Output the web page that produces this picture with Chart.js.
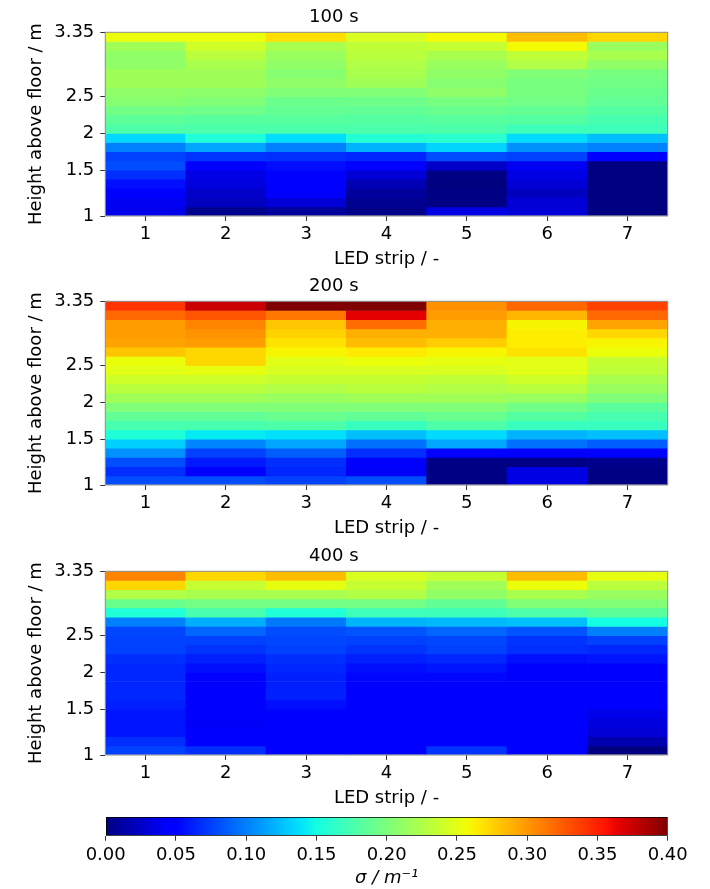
<!DOCTYPE html>
<html>
<head>
<meta charset="utf-8">
<script src="https://cdn.jsdelivr.net/npm/chart.js@4.4.1/dist/chart.umd.min.js"></script>
<style>
  html, body { margin: 0; padding: 0; background: #fff; }
  #wrap { position: relative; width: 710px; height: 889px; }
  canvas { position: absolute; left: 0; }
</style>
</head>
<body>
<div id="wrap">
  <canvas id="p100" width="710" height="270" style="top:0px"></canvas>
  <canvas id="p200" width="710" height="270" style="top:269px"></canvas>
  <canvas id="p400" width="710" height="270" style="top:539px"></canvas>
  <canvas id="cbar" width="710" height="89" style="top:800px"></canvas>
</div>
<script>
// LED strips along x, height bins along y (row 0 = floor)
const strips = ['1', '2', '3', '4', '5', '6', '7'];
const yTickPos = [0, 5, 9, 13, 20];
const yTickLabels = ['1', '1.5', '2', '2.5', '3.35'];
const cbarTicks = [0, 0.05, 0.1, 0.15, 0.2, 0.25, 0.3, 0.35, 0.4];
const sigmaMax = 0.4;

// extinction coefficient per bin, rows listed from ceiling down to floor
const sigma100 = [
  [0.255, 0.255, 0.270, 0.245, 0.258, 0.284, 0.273],
  [0.218, 0.240, 0.222, 0.233, 0.235, 0.258, 0.214],
  [0.210, 0.230, 0.214, 0.230, 0.222, 0.233, 0.222],
  [0.210, 0.222, 0.210, 0.226, 0.214, 0.226, 0.210],
  [0.218, 0.218, 0.205, 0.222, 0.210, 0.202, 0.198],
  [0.218, 0.218, 0.210, 0.218, 0.205, 0.198, 0.195],
  [0.210, 0.208, 0.202, 0.202, 0.210, 0.198, 0.191],
  [0.205, 0.202, 0.192, 0.193, 0.198, 0.195, 0.187],
  [0.195, 0.193, 0.188, 0.187, 0.191, 0.188, 0.181],
  [0.185, 0.183, 0.183, 0.181, 0.183, 0.181, 0.175],
  [0.178, 0.177, 0.177, 0.177, 0.177, 0.170, 0.170],
  [0.135, 0.155, 0.137, 0.157, 0.160, 0.136, 0.125],
  [0.100, 0.115, 0.100, 0.120, 0.133, 0.107, 0.100],
  [0.075, 0.070, 0.068, 0.065, 0.080, 0.075, 0.047],
  [0.080, 0.047, 0.055, 0.047, 0.025, 0.040, 0.000],
  [0.068, 0.035, 0.047, 0.030, 0.002, 0.035, 0.000],
  [0.055, 0.033, 0.047, 0.018, 0.000, 0.030, 0.000],
  [0.045, 0.025, 0.047, 0.010, 0.002, 0.022, 0.000],
  [0.040, 0.022, 0.030, 0.006, 0.002, 0.030, 0.000],
  [0.037, 0.005, 0.010, 0.003, 0.035, 0.030, 0.000]
];

const sigma200 = [
  [0.342, 0.374, 0.400, 0.400, 0.303, 0.320, 0.336],
  [0.320, 0.328, 0.314, 0.365, 0.298, 0.287, 0.320],
  [0.298, 0.308, 0.280, 0.318, 0.290, 0.260, 0.295],
  [0.298, 0.302, 0.275, 0.290, 0.290, 0.263, 0.273],
  [0.295, 0.298, 0.268, 0.284, 0.277, 0.263, 0.260],
  [0.280, 0.273, 0.260, 0.265, 0.260, 0.268, 0.255],
  [0.255, 0.273, 0.250, 0.255, 0.252, 0.250, 0.236],
  [0.250, 0.252, 0.245, 0.245, 0.245, 0.250, 0.233],
  [0.240, 0.240, 0.236, 0.236, 0.233, 0.240, 0.222],
  [0.230, 0.230, 0.226, 0.230, 0.226, 0.230, 0.214],
  [0.218, 0.218, 0.214, 0.218, 0.218, 0.214, 0.202],
  [0.202, 0.202, 0.202, 0.202, 0.202, 0.195, 0.184],
  [0.187, 0.187, 0.191, 0.187, 0.191, 0.181, 0.175],
  [0.175, 0.175, 0.178, 0.167, 0.178, 0.167, 0.167],
  [0.155, 0.142, 0.138, 0.125, 0.136, 0.120, 0.125],
  [0.132, 0.103, 0.115, 0.094, 0.115, 0.094, 0.087],
  [0.107, 0.075, 0.087, 0.068, 0.047, 0.047, 0.047],
  [0.080, 0.060, 0.068, 0.045, 0.002, 0.002, 0.005],
  [0.068, 0.045, 0.065, 0.042, 0.002, 0.035, 0.002],
  [0.080, 0.080, 0.075, 0.080, 0.002, 0.035, 0.002]
];

const sigma400 = [
  [0.308, 0.273, 0.284, 0.245, 0.236, 0.284, 0.252],
  [0.273, 0.236, 0.252, 0.236, 0.218, 0.255, 0.230],
  [0.226, 0.222, 0.222, 0.226, 0.210, 0.222, 0.214],
  [0.191, 0.195, 0.195, 0.195, 0.187, 0.202, 0.202],
  [0.155, 0.175, 0.155, 0.170, 0.170, 0.178, 0.184],
  [0.100, 0.118, 0.097, 0.120, 0.122, 0.125, 0.150],
  [0.077, 0.090, 0.080, 0.083, 0.090, 0.083, 0.100],
  [0.075, 0.075, 0.077, 0.075, 0.077, 0.070, 0.075],
  [0.075, 0.070, 0.075, 0.070, 0.075, 0.068, 0.065],
  [0.068, 0.062, 0.068, 0.062, 0.065, 0.055, 0.058],
  [0.065, 0.055, 0.065, 0.055, 0.058, 0.047, 0.050],
  [0.065, 0.047, 0.062, 0.052, 0.052, 0.047, 0.047],
  [0.065, 0.047, 0.062, 0.047, 0.047, 0.047, 0.047],
  [0.065, 0.047, 0.062, 0.047, 0.047, 0.047, 0.047],
  [0.062, 0.047, 0.055, 0.047, 0.047, 0.047, 0.044],
  [0.058, 0.046, 0.047, 0.047, 0.047, 0.046, 0.037],
  [0.058, 0.042, 0.047, 0.046, 0.047, 0.046, 0.033],
  [0.058, 0.044, 0.047, 0.047, 0.047, 0.046, 0.030],
  [0.068, 0.046, 0.047, 0.047, 0.047, 0.046, 0.016],
  [0.075, 0.068, 0.047, 0.047, 0.070, 0.047, 0.000]
];

const FONT = 'DejaVu Sans';

// matplotlib "jet" segment data
const jetR = [[0, 0], [0.35, 0], [0.66, 1], [0.89, 1], [1, 0.5]];
const jetG = [[0, 0], [0.125, 0], [0.375, 1], [0.64, 1], [0.91, 0], [1, 0]];
const jetB = [[0, 0.5], [0.11, 1], [0.34, 1], [0.65, 0], [1, 0]];

function seg(pts, t) {
  for (let i = 1; i < pts.length; i++) {
    if (t <= pts[i][0]) {
      const [x0, y0] = pts[i - 1], [x1, y1] = pts[i];
      return y0 + (y1 - y0) * (t - x0) / (x1 - x0);
    }
  }
  return pts[pts.length - 1][1];
}

function jet(v) {
  const t = Math.min(1, Math.max(0, v / sigmaMax));
  const c = [jetR, jetG, jetB].map(p => Math.round(255 * seg(p, t)));
  return `rgb(${c[0]},${c[1]},${c[2]})`;
}

// thin grey spine around the plot area
const frame = {
  id: 'frame',
  afterDatasetsDraw(chart) {
    const { ctx, chartArea: a } = chart;
    ctx.save();
    ctx.strokeStyle = '#8c8c8c';
    ctx.lineWidth = 1;
    ctx.strokeRect(a.left, a.top, a.right - a.left, a.bottom - a.top);
    ctx.restore();
  }
};

const tickGrid = { drawOnChartArea: false, drawTicks: true, tickLength: 5, color: '#333', tickColor: '#333' };

function heatmap(id, title, rows) {
  const n = rows.length;
  const datasets = rows.map((vals, i) => {
    const r = n - 1 - i;
    return {
      data: vals.map(() => [r, r + 1]),
      backgroundColor: vals.map(jet),
      borderWidth: 0,
      grouped: false,
      barPercentage: 1,
      categoryPercentage: 1
    };
  });

  new Chart(document.getElementById(id), {
    type: 'bar',
    data: { labels: strips, datasets },
    plugins: [frame],
    options: {
      responsive: false,
      animation: false,
      devicePixelRatio: 1,
      layout: { padding: { left: 0, right: 42.3, top: 0, bottom: 0 } },
      plugins: {
        legend: { display: false },
        tooltip: { enabled: false },
        title: {
          display: true, text: title, color: '#000',
          font: { family: FONT, size: 18, weight: 'normal' },
          padding: { top: 7, bottom: 3.7 }
        }
      },
      scales: {
        x: {
          type: 'category',
          offset: true,
          grid: Object.assign({ offset: false }, tickGrid),
          border: { display: false },
          ticks: { color: '#000', font: { family: FONT, size: 18 }, padding: 3, maxRotation: 0 },
          title: {
            display: true, text: 'LED strip / -', color: '#000',
            font: { family: FONT, size: 18 }, padding: { top: 0, bottom: 0 }
          },
          afterFit: s => { s.height = 54; }
        },
        y: {
          type: 'linear',
          min: 0,
          max: n,
          afterBuildTicks: s => { s.ticks = yTickPos.map(v => ({ value: v })); },
          grid: tickGrid,
          border: { display: false },
          ticks: {
            color: '#000', font: { family: FONT, size: 18 }, padding: 6,
            callback: (v, i) => yTickLabels[i]
          },
          title: {
            display: true, text: 'Height above floor / m', color: '#000',
            font: { family: FONT, size: 18 }, padding: { top: 26, bottom: 0 }
          },
          afterFit: s => { s.width = 105.3; }
        }
      }
    }
  });
}

heatmap('p100', '100 s', sigma100);
heatmap('p200', '200 s', sigma200);
heatmap('p400', '400 s', sigma400);

// colour bar: one floating bar over the full range, filled with the jet ramp
new Chart(document.getElementById('cbar'), {
  type: 'bar',
  data: {
    labels: [''],
    datasets: [{
      data: [[0, sigmaMax]],
      backgroundColor: c => {
        const chart = c.chart;
        if (!chart.chartArea) return '#000';
        const xs = chart.scales.x;
        const g = chart.ctx.createLinearGradient(xs.getPixelForValue(0), 0, xs.getPixelForValue(sigmaMax), 0);
        for (let k = 0; k <= 64; k++) g.addColorStop(k / 64, jet(k / 64 * sigmaMax));
        return g;
      },
      borderColor: '#000',
      borderWidth: 1,
      borderSkipped: false,
      barPercentage: 1,
      categoryPercentage: 1
    }]
  },
  options: {
    indexAxis: 'y',
    responsive: false,
    animation: false,
    devicePixelRatio: 1,
    layout: { padding: { left: 105.7, right: 42.3, top: 17, bottom: 0 } },
    plugins: { legend: { display: false }, tooltip: { enabled: false } },
    scales: {
      x: {
        type: 'linear',
        min: 0,
        max: sigmaMax,
        afterBuildTicks: s => { s.ticks = cbarTicks.map(v => ({ value: v })); },
        grid: tickGrid,
        border: { display: false },
        ticks: {
          color: '#000', font: { family: FONT, size: 18 }, padding: 3.5,
          callback: v => v.toFixed(2)
        },
        title: {
          display: true, text: 'σ / m⁻¹', color: '#000',
          font: { family: FONT, size: 18, style: 'italic' }, padding: { top: 0, bottom: 0 }
        },
        afterFit: s => { s.height = 53.3; }
      },
      y: { display: false }
    }
  }
});
</script>
</body>
</html>
